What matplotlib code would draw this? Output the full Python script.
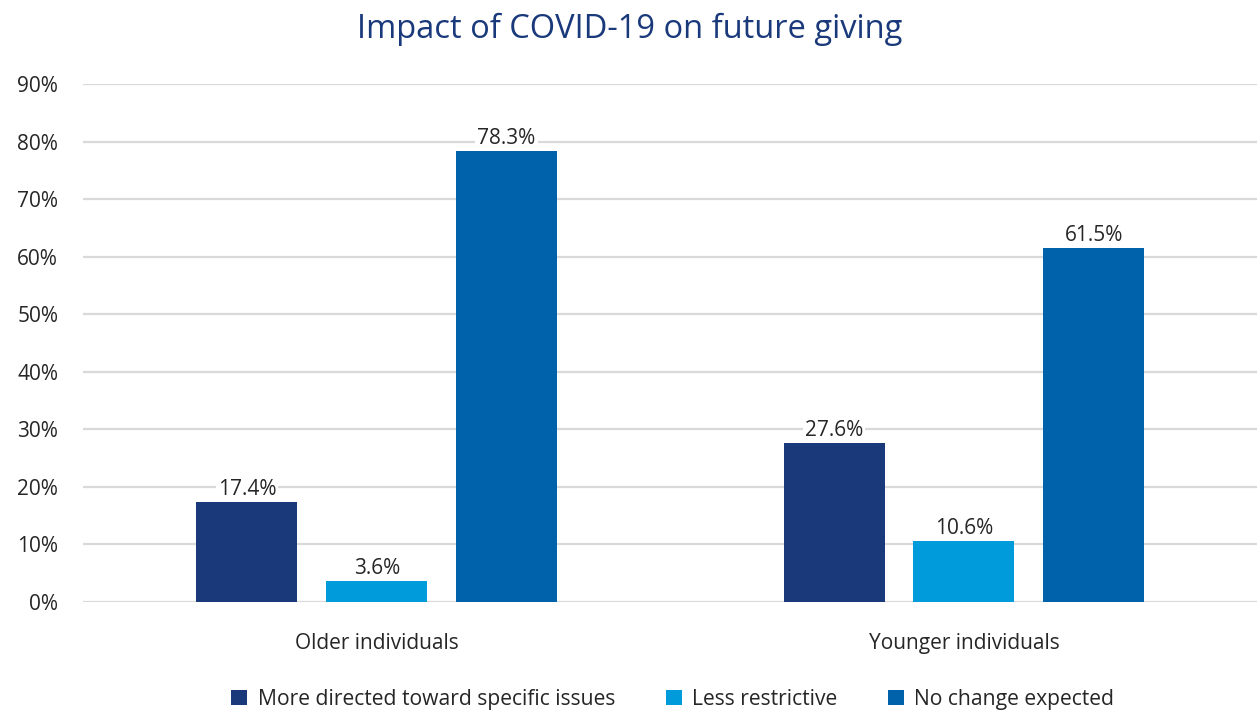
import numpy as np
import matplotlib
matplotlib.use("Agg")
import matplotlib.pyplot as plt

plt.rcParams['font.family'] = ['Open Sans', 'DejaVu Sans']

groups = ["Older individuals", "Younger individuals"]
series = ["More directed toward specific issues", "Less restrictive", "No change expected"]
more_directed = [17.4, 27.6]
less_restrictive = [3.6, 10.6]
no_change = [78.3, 61.5]
colors = ["#19397b", "#009bdb", "#0062ab"]
yticks = [0, 10, 20, 30, 40, 50, 60, 70, 80, 90]

text_col = "#262626"
grid_col = "#d9d9d9"

fig = plt.figure(figsize=(12.6, 7.13), dpi=100)
ax = fig.add_axes([0.066, 0.1557, 0.932, 0.7263])

x = np.arange(len(groups))
width = 0.172
step = 0.221
for i, (vals, name) in enumerate(zip([more_directed, less_restrictive, no_change], series)):
    pos = x + (i - 1) * step
    bars = ax.bar(pos, vals, width, color=colors[i], label=name, zorder=3)
    for b, v in zip(bars, vals):
        ax.text(b.get_x() + b.get_width() / 2, v + 0.4, f"{v:.1f}%",
                ha="center", va="bottom", fontsize=15, color=text_col, zorder=4,
                bbox=dict(facecolor="white", edgecolor="none", pad=1.5))

ax.set_xlim(-0.5, 1.5)
ax.set_ylim(0, 90)
ax.set_yticks(yticks)
ax.set_yticklabels([f"{t}%" for t in yticks])
ax.set_xticks(x)
ax.set_xticklabels(groups)
ax.tick_params(axis="both", length=0, labelsize=15, colors=text_col)
ax.tick_params(axis="y", pad=18)
ax.tick_params(axis="x", pad=22)
ax.grid(axis="y", color=grid_col, linewidth=1.6, zorder=0)
for s in ax.spines.values():
    s.set_visible(False)

fig.suptitle("Impact of COVID-19 on future giving", x=0.5, y=0.982,
             fontsize=23.5, color="#19397b", va="top")

fig.legend(loc="lower center", bbox_to_anchor=(0.534, -0.022), ncol=3, frameon=False,
           fontsize=15.2, handlelength=0.75, handleheight=0.75, handletextpad=0.5,
           columnspacing=2.4, labelcolor=text_col)

fig.savefig("out.png", dpi=100)
